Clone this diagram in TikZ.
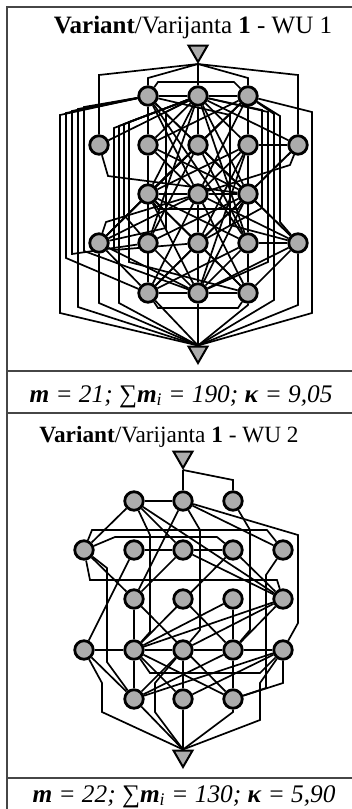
\documentclass[tikz,border=0pt]{standalone}
\usepackage{fontspec}
\setmainfont{Liberation Serif}
\usetikzlibrary{shapes.geometric,backgrounds}
\definecolor{nodeGray}{RGB}{172,172,172}
\definecolor{frameGray}{RGB}{70,70,70}
\newcommand{\VariantTitle}[1]{\textbf{Variant}/Varijanta \textbf{1} - WU #1}
\newcommand{\KappaLine}[3]{\textbf{\textit{m}}\textit{ = #1; }∑\textbf{\textit{m}}\textsubscript{\textit{i}}\textit{ = #2; }\textbf{\textit{κ}}\textit{ = #3}}

\begin{document}
\begin{tikzpicture}[
    x=1pt, y=-1pt,
    opNode/.style={circle, draw=black, fill=nodeGray, line width=2.8pt, minimum size=18.5pt, inner sep=0pt},
    endNode/.style={regular polygon, regular polygon sides=3, shape border rotate=180,
        draw=black, fill=nodeGray, line width=2pt, minimum size=22pt, inner sep=0pt},
    link/.style={line width=1.7pt, black},
    frameLine/.style={line width=1.5pt, frameGray}
]
\useasboundingbox (0,0) rectangle (352,809);

% table frame
\draw[frameLine] (7,809) -- (7,7) -- (352,7);
\foreach \yy in {371,413,778}
    \draw[frameLine] (7,\yy) -- (352,\yy);

\node[font=\fontsize{25}{30}\selectfont, anchor=base] (titleOne) at (193,33) {\VariantTitle{1}};
\node[font=\fontsize{23.3}{28}\selectfont, anchor=base] (titleTwo) at (169,442) {\VariantTitle{2}};
\node[font=\fontsize{25.3}{30}\selectfont, anchor=base] (capOne) at (181,402) {\KappaLine{21}{190}{9,05}};
\node[font=\fontsize{25.3}{30}\selectfont, anchor=base] (capTwo) at (184,802) {\KappaLine{22}{130}{5,90}};

% ---------------- WU 1 ----------------
\node[endNode] (S1) at (198,51) {};
\node[endNode] (T1) at (198,352) {};
\foreach \c/\x in {1/148,2/198,3/248} {
    \node[opNode] (A1\c) at (\x,96) {};
    \node[opNode] (A3\c) at (\x,194) {};
    \node[opNode] (A5\c) at (\x,293) {};
}
\foreach \c/\x in {1/99,2/148,3/198,4/248,5/298} {
    \node[opNode] (A2\c) at (\x,145) {};
    \node[opNode] (A4\c) at (\x,243) {};
}

\begin{scope}[on background layer]
\draw[link] (S1.south) -- (A12);
\draw[link] (S1.south) -- (148,78) -- (A11);
\draw[link] (S1.south) -- (99,75) -- (A21);
\draw[link] (S1.south) -- (248,78) -- (A13);
\draw[link] (S1.south) -- (298,75) -- (A25);
\draw[link] (A11) -- (158,82) -- (234,82) -- (A13);
\draw[link] (A13) -- (312,112) -- (312,313) -- (T1.north);
% left detours
\draw[link] (A11) -- (60,115) -- (60,313) -- (T1.north);
\draw[link] (A11) -- (66,113) -- (66,258) -- (A51);
\draw[link] (A11) -- (72,111) -- (72,254) -- (A42);
\draw[link] (A11) -- (78,109) -- (78,307) -- (T1.north);
\draw[link] (A11) -- (84,107) -- (84,251) -- (A52);
\draw[link] (A12) -- (114,128) -- (114,250) -- (A43);
\draw[link] (A12) -- (119,126) -- (119,303) -- (T1.north);
\draw[link] (A12) -- (124,124) -- (124,215) -- (A42);
\draw[link] (A12) -- (129,122) -- (129,262) -- (A53);
\draw[link] (A12) -- (166,112) -- (166,228) -- (A41);
% right detours
\draw[link] (A13) -- (280,116) -- (280,222) -- (A45);
\draw[link] (A13) -- (274,114) -- (274,300) -- (T1.north);
\draw[link] (A12) -- (268,112) -- (268,262) -- (A52);
\draw[link] (A12) -- (262,110) -- (262,208) -- (A43);
\draw[link] (A11) -- (230,115) -- (230,225) -- (A45);
% row detours
\draw[link] (A31) -- (158,209) -- (238,209) -- (A33);
\draw[link] (A51) -- (158,308) -- (238,308) -- (A53);
\draw[link] (A41) -- (106,222) -- (A32);
\draw[link] (A21) -- (108,176) -- (A33);
\draw[link] (A25) -- (290,165) -- (A32);
\draw[link] (A41) -- (99,303) -- (T1.north);
\draw[link] (A45) -- (298,305) -- (T1.north);
\draw[link] (A53) -- (248,305) -- (T1.north);
\foreach \a/\b in {A11/A12, A12/A13, A11/A22, A11/A23, A11/A32, A11/A33, A11/A44,
    A12/A21, A12/A22, A12/A23, A12/A24, A12/A25, A12/A31, A12/A33, A12/A42, A12/A44,
    A13/A22, A13/A23, A13/A24, A13/A31, A13/A32, A13/A41,
    A22/A32, A22/A33, A22/A42, A22/A51,
    A23/A31, A23/A33, A23/A41, A23/A45, A23/A42, A23/A44,
    A24/A25, A24/A31, A24/A32, A24/A43, A24/A52, A24/A44,
    A25/A33, A25/A43,
    A31/A32, A32/A33, A31/A41, A31/A42, A31/A43, A31/A52, A31/A53, A31/A44,
    A32/A41, A32/A43, A32/A51, A32/A53, A32/A45,
    A33/A42, A33/A44, A33/A51, A33/A52, A33/A45,
    A41/A51, A41/A52, A42/A51, A42/A52, A43/A51, A43/A52, A43/A53,
    A44/A45, A44/A51, A44/A53, A44/A52, A45/A52, A45/A53,
    A51/A52, A52/A53}
    \draw[link] (\a) -- (\b);
\foreach \a in {A51, A52}
    \draw[link] (\a) -- (T1.north);
\end{scope}

% ---------------- WU 2 ----------------
\node[endNode] (S2) at (183,457) {};
\node[endNode] (T2) at (183,756) {};
\foreach \c/\x in {1/134,2/183,3/233} {
    \node[opNode] (B1\c) at (\x,501) {};
    \node[opNode] (B5\c) at (\x,699) {};
}
\foreach \c/\x in {1/134,2/183,3/233,4/283}
    \node[opNode] (B3\c) at (\x,599) {};
\foreach \c/\x in {1/84,2/134,3/183,4/233,5/283} {
    \node[opNode] (B2\c) at (\x,550) {};
    \node[opNode] (B4\c) at (\x,650) {};
}

\begin{scope}[on background layer]
\draw[link] (S2.south) -- (B12);
\draw[link] (S2.south) -- (233,480) -- (B13);
\draw[link] (B12) -- (298,535) -- (298,623) -- (B45);
\draw[link] (B21) -- (92,530) -- (267,530) -- (B25);
\draw[link] (B21) -- (90,580) -- (277,580) -- (B34);
\draw[link] (B21) -- (115,537) -- (217,537) -- (B24);
\draw[link] (B11) -- (150,535) -- (150,632) -- (B42);
\draw[link] (B12) -- (200,530) -- (200,630) -- (B43);
\draw[link] (B13) -- (250,530) -- (250,630) -- (B44);
\draw[link] (B25) -- (266,575) -- (266,688) -- (B53);
\draw[link] (B21) -- (107,568) -- (107,662) -- (B51);
\draw[link] (B42) -- (150,673) -- (260,673) -- (B45);
\draw[link] (B41) -- (102,683) -- (102,712) -- (T2.north);
\draw[link] (B43) -- (155,683) -- (155,712) -- (T2.north);
\draw[link] (B45) -- (260,683) -- (260,720) -- (T2.north);
\draw[link] (B45) -- (283,683) -- (B53);
\draw[link] (B53) -- (233,712) -- (T2.north);
\foreach \a/\b in {B11/B12, B11/B21, B11/B23, B11/B34,
    B12/B31, B12/B25, B21/B31, B22/B23, B23/B24,
    B22/B41, B23/B31, B23/B34, B24/B34, B24/B42,
    B31/B42, B31/B53, B32/B44, B33/B42, B33/B44,
    B34/B42, B34/B43, B34/B44,
    B41/B42, B42/B43, B43/B44, B44/B45,
    B41/B51, B42/B51, B42/B52, B42/B53, B43/B51, B43/B52,
    B44/B51, B44/B53, B45/B51, B45/B52}
    \draw[link] (\a) -- (\b);
\foreach \a in {B51, B52}
    \draw[link] (\a) -- (T2.north);
\end{scope}
\end{tikzpicture}
\end{document}
